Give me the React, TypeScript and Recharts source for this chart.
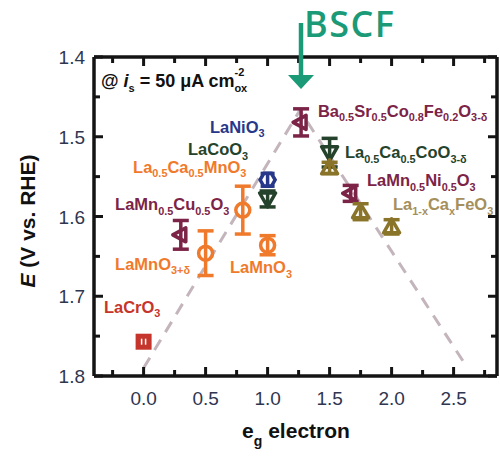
import React from "react";
import {
  ComposedChart,
  Scatter,
  Line,
  XAxis,
  YAxis,
  ErrorBar,
  Label,
} from "recharts";

// volcano guide line (e_g filling vs. potential)
const volcanoEg = [0, 1.26, 2.6];
const volcanoE = [1.79, 1.467, 1.787];

// LaCrO3
const squareEg = [0];
const squareE = [1.757];
const squareErr = [0.006];

// LaMn0.5Cu0.5O3, BSCF, LaMn0.5Ni0.5O3
const leftTriEg = [0.3, 1.27, 1.67];
const leftTriE = [1.623, 1.482, 1.571];
const leftTriErr = [0.018, 0.017, 0.01];

// LaMnO3+d, La0.5Ca0.5MnO3, LaMnO3
const circleEg = [0.5, 0.8, 1.0];
const circleE = [1.646, 1.592, 1.636];
const circleErr = [0.028, 0.03, 0.012];

// LaNiO3
const hexEg = [1.0];
const hexE = [1.554];
const hexErr = [0.008];

// LaCoO3, La0.5Ca0.5CoO3-d
const downTriEg = [1.0, 1.5];
const downTriE = [1.578, 1.52];
const downTriErr = [0.01, 0.018];

// La1-xCaxFeO3
const upTriEg = [1.5, 1.75, 2.0];
const upTriE = [1.539, 1.594, 1.613];
const upTriErr = [0.007, 0.01, 0.009];

const xTicks = [-0.25, 0, 0.25, 0.5, 0.75, 1, 1.25, 1.5, 1.75, 2, 2.25, 2.5, 2.75];
const yTicks = [1.4, 1.45, 1.5, 1.55, 1.6, 1.65, 1.7, 1.75, 1.8];

const zip = (eg: number[], e: number[], err?: number[]) =>
  eg.map((v, i) => ({ eg: v, E: e[i], err: err ? err[i] : 0 }));

const AXIS = "#141414";
const TICK_TEXT = "#2f3650";
const FONT = "'Liberation Sans', Arial, sans-serif";
const MAROON = "#7c2447";
const ORANGE = "#f07a2c";
const NAVY = "#27388a";
const GREEN = "#25432c";
const OLIVE = "#8a7429";
const TAN = "#a58f5c";
const RED = "#c6352b";
const TEAL = "#1b9a78";
const DASH = "#c3b5bb";

// label anchors in data units (text start, baseline)
const labels = [
  { text: "LaNiO_{3}", eg: 0.535, E: 1.495, color: NAVY },
  { text: "LaCoO_{3}", eg: 0.358, E: 1.523, color: GREEN },
  { text: "La_{0.5}Ca_{0.5}MnO_{3}", eg: -0.085, E: 1.545, color: ORANGE },
  { text: "LaMn_{0.5}Cu_{0.5}O_{3}", eg: -0.23, E: 1.592, color: MAROON },
  { text: "LaMnO_{3+δ}", eg: -0.23, E: 1.667, color: ORANGE },
  { text: "LaMnO_{3}", eg: 0.697, E: 1.671, color: ORANGE },
  { text: "LaCrO_{3}", eg: -0.32, E: 1.721, color: RED },
  { text: "Ba_{0.5}Sr_{0.5}Co_{0.8}Fe_{0.2}O_{3-δ}", eg: 1.406, E: 1.475, color: MAROON },
  { text: "La_{0.5}Ca_{0.5}CoO_{3-δ}", eg: 1.624, E: 1.527, color: GREEN },
  { text: "LaMn_{0.5}Ni_{0.5}O_{3}", eg: 1.801, E: 1.562, color: MAROON },
  { text: "La_{1-x}Ca_{x}FeO_{3}", eg: 2.011, E: 1.592, color: TAN },
];

const Formula = ({ x, y, text, color, size = 16.5 }: any) => {
  const parts: React.ReactNode[] = [];
  const re = /_\{([^}]*)\}|([^_]+)/g;
  let m: RegExpExecArray | null;
  let shift = 0;
  let k = 0;
  while ((m = re.exec(text))) {
    if (m[1] !== undefined) {
      const d = 4.5;
      parts.push(
        <tspan key={k++} dy={d - shift} fontSize={size * 0.66}>
          {m[1]}
        </tspan>
      );
      shift = d;
    } else {
      parts.push(
        <tspan key={k++} dy={-shift} fontSize={size}>
          {m[2]}
        </tspan>
      );
      shift = 0;
    }
  }
  return (
    <text x={x} y={y} fill={color} fontWeight="bold" fontFamily={FONT}>
      {parts}
    </text>
  );
};

const LabelShape = (p: any) => (
  <Formula x={p.cx} y={p.cy} text={p.payload.text} color={p.payload.color} />
);

const SquareShape = (p: any) => (
  <g>
    <rect x={p.cx - 8} y={p.cy - 8} width={16} height={16} fill={RED} />
    <line x1={p.cx - 2} x2={p.cx - 2} y1={p.cy - 3} y2={p.cy + 3} stroke="#fff" strokeWidth={1.5} />
    <line x1={p.cx + 2} x2={p.cx + 2} y1={p.cy - 3} y2={p.cy + 3} stroke="#fff" strokeWidth={1.5} />
  </g>
);

const LeftTriShape = (p: any) => (
  <polygon
    points={`${p.cx - 8},${p.cy} ${p.cx + 5},${p.cy - 7} ${p.cx + 5},${p.cy + 7}`}
    fill="none"
    stroke={MAROON}
    strokeWidth={3.5}
    strokeLinejoin="round"
  />
);

const CircleShape = (p: any) => (
  <circle cx={p.cx} cy={p.cy} r={7} fill="none" stroke={ORANGE} strokeWidth={3.5} />
);

const HexShape = (p: any) => {
  const pts = [0, 1, 2, 3, 4, 5]
    .map((i) => {
      const a = (Math.PI / 3) * i;
      return `${p.cx + 7.5 * Math.cos(a)},${p.cy + 7.5 * Math.sin(a)}`;
    })
    .join(" ");
  return <polygon points={pts} fill="none" stroke={NAVY} strokeWidth={3.5} />;
};

const DownTriShape = (p: any) => (
  <polygon
    points={`${p.cx - 8},${p.cy - 6} ${p.cx + 8},${p.cy - 6} ${p.cx},${p.cy + 8}`}
    fill="none"
    stroke={GREEN}
    strokeWidth={3.5}
    strokeLinejoin="round"
  />
);

const UpTriShape = (p: any) => (
  <polygon
    points={`${p.cx - 8},${p.cy + 6} ${p.cx + 8},${p.cy + 6} ${p.cx},${p.cy - 8}`}
    fill="none"
    stroke={OLIVE}
    strokeWidth={3.5}
    strokeLinejoin="round"
  />
);

const isMajorX = (v: number) => Math.round(v * 4) % 2 === 0;
const isMajorY = (v: number) => Math.round(v * 20) % 2 === 0;

const BottomTick = (p: any) => {
  const v = p.payload.value;
  const major = isMajorX(v);
  return (
    <g>
      <line x1={p.x} x2={p.x} y1={p.y} y2={p.y - (major ? 9 : 6)} stroke={AXIS} strokeWidth={3} />
      {major && (
        <text x={p.x} y={p.y + 29} textAnchor="middle" fontSize={19} fill={TICK_TEXT} fontFamily={FONT}>
          {v.toFixed(1)}
        </text>
      )}
    </g>
  );
};

const TopTick = (p: any) => {
  const major = isMajorX(p.payload.value);
  return <line x1={p.x} x2={p.x} y1={p.y} y2={p.y + (major ? 9 : 6)} stroke={AXIS} strokeWidth={3} />;
};

const LeftTick = (p: any) => {
  const v = p.payload.value;
  const major = isMajorY(v);
  return (
    <g>
      <line x1={p.x} x2={p.x + (major ? 9 : 6)} y1={p.y} y2={p.y} stroke={AXIS} strokeWidth={3} />
      {major && (
        <text x={p.x - 9} y={p.y + 7} textAnchor="end" fontSize={19} fill={TICK_TEXT} fontFamily={FONT}>
          {v.toFixed(1)}
        </text>
      )}
    </g>
  );
};

const RightTick = (p: any) => {
  const major = isMajorY(p.payload.value);
  return <line x1={p.x} x2={p.x - (major ? 9 : 6)} y1={p.y} y2={p.y} stroke={AXIS} strokeWidth={3} />;
};

const axisLine = { stroke: AXIS, strokeWidth: 3.5 };

export default function App() {
  return (
    <div style={{ position: "absolute", left: 0, top: 0, width: 500, height: 458, background: "#fff" }}>
      <ComposedChart width={500} height={458} margin={{ top: 27, right: 0, bottom: 0, left: 0 }}>
        <XAxis
          xAxisId={0}
          type="number"
          dataKey="eg"
          domain={[-0.4, 2.85]}
          ticks={xTicks}
          interval={0}
          allowDataOverflow
          height={82}
          tickSize={0}
          tickMargin={0}
          tickLine={false}
          axisLine={axisLine}
          tick={BottomTick}
        >
          <Label
            content={() => (
              <text x={296} y={438} textAnchor="middle" fontSize={21} fontWeight="bold" fill="#111" fontFamily={FONT}>
                <tspan>e</tspan>
                <tspan dy={8} fontSize={14}>g</tspan>
                <tspan dy={-8}> electron</tspan>
              </text>
            )}
          />
        </XAxis>
        <XAxis
          xAxisId="top"
          orientation="top"
          type="number"
          dataKey="eg"
          domain={[-0.4, 2.85]}
          ticks={xTicks}
          interval={0}
          allowDataOverflow
          height={30}
          tickSize={0}
          tickMargin={0}
          tickLine={false}
          axisLine={axisLine}
          tick={TopTick}
        />
        <YAxis
          yAxisId={0}
          type="number"
          reversed
          domain={[1.4, 1.8]}
          ticks={yTicks}
          interval={0}
          allowDataOverflow
          width={94}
          tickSize={0}
          tickMargin={0}
          tickLine={false}
          axisLine={axisLine}
          tick={LeftTick}
        >
          <Label
            content={() => (
              <text
                transform="translate(35,221) rotate(-90)"
                textAnchor="middle"
                fontSize={21}
                fontWeight="bold"
                fill="#111"
                fontFamily={FONT}
              >
                <tspan fontStyle="italic">E</tspan>
                <tspan> (V vs. RHE)</tspan>
              </text>
            )}
          />
        </YAxis>
        <YAxis
          yAxisId="right"
          orientation="right"
          type="number"
          reversed
          domain={[1.4, 1.8]}
          ticks={yTicks}
          interval={0}
          allowDataOverflow
          width={3}
          tickSize={0}
          tickMargin={0}
          tickLine={false}
          axisLine={axisLine}
          tick={RightTick}
        />

        {/* volcano guide */}
        <Line
          data={zip(volcanoEg, volcanoE)}
          dataKey="E"
          type="linear"
          stroke={DASH}
          strokeWidth={3}
          strokeDasharray="12 9"
          dot={false}
          isAnimationActive={false}
        />

        <Scatter data={zip(squareEg, squareE, squareErr)} dataKey="E" shape={SquareShape} isAnimationActive={false} />
        <Scatter data={zip(leftTriEg, leftTriE, leftTriErr)} dataKey="E" shape={LeftTriShape} isAnimationActive={false}>
          <ErrorBar dataKey="err" direction="y" width={8} strokeWidth={3.5} stroke={MAROON} />
        </Scatter>
        <Scatter data={zip(circleEg, circleE, circleErr)} dataKey="E" shape={CircleShape} isAnimationActive={false}>
          <ErrorBar dataKey="err" direction="y" width={8} strokeWidth={3.5} stroke={ORANGE} />
        </Scatter>
        <Scatter data={zip(hexEg, hexE, hexErr)} dataKey="E" shape={HexShape} isAnimationActive={false}>
          <ErrorBar dataKey="err" direction="y" width={7} strokeWidth={3.5} stroke={NAVY} />
        </Scatter>
        <Scatter data={zip(downTriEg, downTriE, downTriErr)} dataKey="E" shape={DownTriShape} isAnimationActive={false}>
          <ErrorBar dataKey="err" direction="y" width={8} strokeWidth={3.5} stroke={GREEN} />
        </Scatter>
        <Scatter data={zip(upTriEg, upTriE, upTriErr)} dataKey="E" shape={UpTriShape} isAnimationActive={false}>
          <ErrorBar dataKey="err" direction="y" width={8} strokeWidth={3.5} stroke={OLIVE} />
        </Scatter>

        {/* material labels */}
        <Scatter data={labels} dataKey="E" shape={LabelShape} isAnimationActive={false} />
      </ComposedChart>

      <svg width={500} height={458} style={{ position: "absolute", left: 0, top: 0, pointerEvents: "none" }}>
        <text x={101} y={87} fontSize={18} fontWeight="bold" fill="#111" fontFamily={FONT}>
          <tspan>@ </tspan>
          <tspan fontStyle="italic">i</tspan>
          <tspan dy={5} fontSize={11}>s</tspan>
          <tspan dy={-5}> = 50 μA cm</tspan>
          <tspan dy={-11} fontSize={11}>-2</tspan>
          <tspan dx={-10} dy={16} fontSize={11}>ox</tspan>
        </text>
        <text x={304} y={37} fontSize={36} fontWeight={600} fill={TEAL} fontFamily="'Open Sans', sans-serif" letterSpacing={1.5}>
          BSCF
        </text>
        <line x1={301} y1={23} x2={301} y2={76} stroke={TEAL} strokeWidth={4.5} />
        <polygon points="288,75 314,75 301,89" fill={TEAL} />
      </svg>
    </div>
  );
}
